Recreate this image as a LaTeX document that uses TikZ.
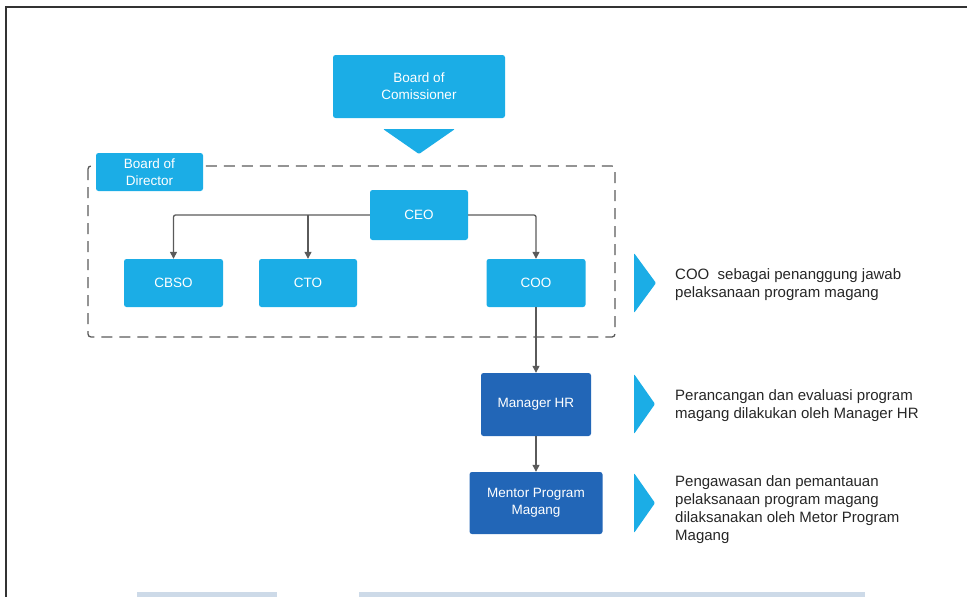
\documentclass[tikz,border=0pt]{standalone}
\usepackage{fontspec}
\setmainfont{Liberation Sans}
\usetikzlibrary{arrows.meta}
\definecolor{lblue}{RGB}{27,173,230}
\definecolor{dblue}{RGB}{34,102,183}
\definecolor{lgray}{RGB}{90,90,90}
\definecolor{barblue}{RGB}{205,218,232}
\begin{document}
\begin{tikzpicture}[x=1pt,y=-1pt,
  lbox/.style={fill=lblue, rounded corners=2.5pt, text=white,
    font=\fontsize{13.5}{17}\selectfont, align=center, inner sep=0pt},
  dbox/.style={lbox, fill=dblue},
  conn/.style={draw=lgray, line width=1.3pt, -{Triangle[width=7pt,length=7pt]}, rounded corners=2pt},
  desc/.style={anchor=base west, align=left, font=\fontsize{15}{18}\selectfont, text=black!85, inner sep=0pt},
  chev/.style={fill=lblue, rounded corners=1pt},
  frameline/.style={draw=black!80, line width=1.2pt}]
\useasboundingbox (0,0) rectangle (967,597);
% frame
\coordinate (fa) at (6,597);
\coordinate (fb) at (6,7);
\coordinate (fc) at (967,7);
\draw[frameline] (fa) -- (fb) -- (fc);
% bottom bars
\fill[barblue] (137,592) rectangle (277,597);
\fill[barblue] (359,592) rectangle (865,597);
% board of commissioner
\node[lbox, minimum width=172pt, minimum height=63pt] (boc) at (419,86.5) {Board of\\Comissioner};
\fill[lblue, rounded corners=1pt] (383,129) -- (455,129) -- (419,154) -- cycle;
% dashed group
\draw[draw=lgray, line width=1.3pt, dash pattern=on 11pt off 7pt, rounded corners=3pt] (88,166) rectangle (615,337);
\node[lbox, minimum width=107pt, minimum height=38pt] (bod) at (149.5,172) {Board of\\Director};
% nodes
\node[lbox, minimum width=98pt, minimum height=50pt] (ceo) at (419,215) {CEO};
\node[lbox, minimum width=99pt, minimum height=48pt] (cbso) at (173.5,283) {CBSO};
\node[lbox, minimum width=98pt, minimum height=48pt] (cto) at (308,283) {CTO};
\node[lbox, minimum width=99pt, minimum height=48pt] (coo) at (536,283) {COO};
\node[dbox, minimum width=110pt, minimum height=63pt] (mhr) at (536,404.5) {Manager HR};
\node[dbox, minimum width=133pt, minimum height=62pt] (mpm) at (536,503) {Mentor Program\\Magang};
% connectors
\draw[conn] (ceo.west) -| (cbso.north);
\draw[conn] (ceo.west -| cto.north) -- (cto.north);
\draw[conn] (ceo.east) -| (coo.north);
\draw[conn] (coo.south) -- (mhr.north);
\draw[conn] (mhr.south) -- (mpm.north);
% chevrons
\fill[chev] (634,253) -- (656,283) -- (634,313) -- cycle;
\fill[chev] (634,374) -- (655,404) -- (634,434) -- cycle;
\fill[chev] (634,473) -- (655,503) -- (634,533) -- cycle;
% descriptions
\node[desc] (t1) at (675,297) {COO\ \ sebagai penanggung jawab\\pelaksanaan program magang};
\node[desc] (t2) at (675,418) {Perancangan dan evaluasi program\\magang dilakukan oleh Manager HR};
\node[desc] (t3) at (675,540) {Pengawasan dan pemantauan\\pelaksanaan program magang\\dilaksanakan oleh Metor Program\\Magang};
\end{tikzpicture}
\end{document}
